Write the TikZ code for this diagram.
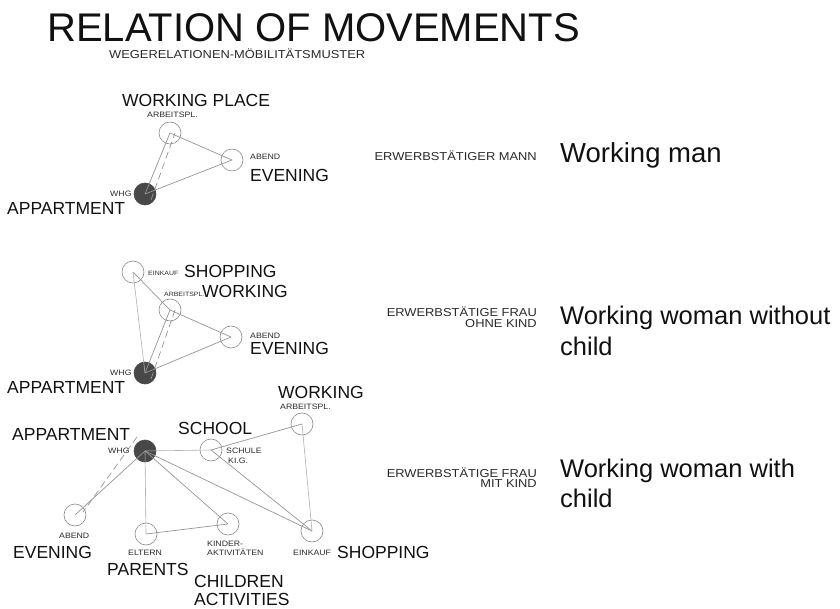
\documentclass[tikz,border=0pt]{standalone}
\usepackage{fontspec}
\setmainfont{Liberation Sans}
\newfontfamily\widefont[FakeStretch=1.12]{Liberation Sans}
\definecolor{ringgray}{HTML}{8A8A8A}
\definecolor{linegray}{HTML}{969696}
\definecolor{faintgray}{HTML}{B0B0B0}
\definecolor{homegray}{HTML}{484848}
\definecolor{inkc}{HTML}{111111}
\definecolor{smallink}{HTML}{2A2A2A}
\begin{document}
\begin{tikzpicture}[x=1pt,y=-1pt,
  ring/.style={circle, draw=ringgray, line width=0.6pt, minimum size=22pt, inner sep=0pt},
  home/.style={circle, fill=homegray, draw=homegray, line width=0.6pt, minimum size=22pt, inner sep=0pt},
  link/.style={draw=linegray, line width=0.7pt},
  faint/.style={draw=faintgray, line width=0.6pt},
  dashlink/.style={draw=linegray, line width=0.7pt, dash pattern=on 7pt off 4pt},
  titletext/.style={font=\fontsize{40}{44}\selectfont, text=inkc, anchor=base west, inner sep=0pt},
  subtitletext/.style={font=\widefont\fontsize{11.5}{12}\selectfont, text=smallink, anchor=base west, inner sep=0pt},
  bigtext/.style={font=\fontsize{17.5}{20}\selectfont, text=inkc, anchor=base west, inner sep=0pt},
  tinytext/.style={font=\widefont\fontsize{7.8}{9}\selectfont, text=smallink, anchor=base west, inner sep=0pt},
  minitext/.style={font=\widefont\fontsize{6.2}{7}\selectfont, text=smallink, anchor=base west, inner sep=0pt},
  germantext/.style={font=\widefont\fontsize{11.5}{12}\selectfont, text=smallink, anchor=base east, inner sep=0pt},
  hugetext/.style={font=\fontsize{25.5}{30}\selectfont, text=inkc, anchor=base west, inner sep=0pt}]
\useasboundingbox (0,0) rectangle (840,609);
\fill[white] (0,0) rectangle (840,609);

% title
\node[titletext] (t) at (47,42) {RELATION OF MOVEMENTS};
\node[subtitletext] (st) at (109,59) {WEGERELATIONEN-MÖBILITÄTSMUSTER};

% ---------- diagram 1 ----------
\node[ring] (aw) at (170,133) {};
\node[ring] (ae) at (232,160) {};
\node[home] (ah) at (145,194) {};
\draw[link] (aw.center) -- (ae.center);
\draw[link] (ah.center) -- (ae.center);
\draw[link] (ah.center) -- (aw.center);
\draw[dashlink] ([xshift=6pt,yshift=-6pt]ah.center) -- ([xshift=5pt]aw.center);
\node[bigtext] (awl) at (122,107) {WORKING PLACE};
\node[tinytext] (aws) at (147,118) {ARBEITSPL.};
\node[tinytext] (aes) at (250,160) {ABEND};
\node[bigtext] (ael) at (250,182) {EVENING};
\node[tinytext] (ahs) at (110,197) {WHG};
\node[bigtext] (ahl) at (7,215) {APPARTMENT};

\node[germantext] (ac) at (537,161) {ERWERBSTÄTIGER MANN};
\node[hugetext, font=\fontsize{27.5}{32}\selectfont] (at) at (560,163) {Working man};

% ---------- diagram 2 ----------
\node[ring] (bs) at (133,272) {};
\node[ring] (bw) at (170,310) {};
\node[ring] (be) at (231,337) {};
\node[home] (bh) at (145,373) {};
\draw[link] (bs.center) -- (bw.center);
\draw[link] (bw.center) -- (be.center);
\draw[faint] (bh.center) -- (bs.center);
\draw[link] (bh.center) -- (be.center);
\draw[link] (bh.center) -- (bw.center);
\draw[dashlink] ([xshift=6pt,yshift=-6pt]bh.center) -- ([xshift=5pt]bw.center);
\node[minitext] (bss) at (148,276) {EINKAUF};
\node[bigtext] (bsl) at (184,278) {SHOPPING};
\node[minitext] (bws) at (164,297) {ARBEITSPL.};
\node[bigtext] (bwl) at (202,298) {WORKING};
\node[tinytext] (bes) at (250,338) {ABEND};
\node[bigtext] (bel) at (250,354) {EVENING};
\node[tinytext] (bhs) at (110,375) {WHG};
\node[bigtext] (bhl) at (7,393) {APPARTMENT};

\node[germantext] (bc1) at (537,317) {ERWERBSTÄTIGE FRAU};
\node[germantext] (bc2) at (537,327) {OHNE KIND};
\node[hugetext] (bt1) at (560,325) {Working woman without};
\node[hugetext] (bt2) at (560,355) {child};

% ---------- diagram 3 ----------
\node[home] (ch) at (145,451) {};
\node[ring] (cs) at (211,450) {};
\node[ring] (cw) at (302,424) {};
\node[ring] (ce) at (75,515) {};
\node[ring] (cp) at (146,534) {};
\node[ring] (ck) at (228,524) {};
\node[ring] (cb) at (312,531) {};
\draw[faint] (ch.center) -- (cs.center);
\draw[link] (cs.center) -- (cw.center);
\draw[link] (cs.center) -- (cb.center);
\draw[faint] (cw.center) -- (cb.center);
\draw[link] (ch.center) -- (cb.center);
\draw[link] (ch.center) -- (ck.center);
\draw[faint] (ch.center) -- (cp.center);
\draw[link] (cp.center) -- (ck.center);
\draw[link] (ch.center) -- (ce.center);
\draw[dashlink] ([xshift=-8pt,yshift=14pt]ch.center) -- ([xshift=8pt,yshift=3pt]ce.center);
\node[bigtext] (chl) at (12,440) {APPARTMENT};
\node[tinytext] (chs) at (108,453) {WHG};
\node[bigtext] (csl) at (178,434) {SCHOOL};
\node[tinytext] (css1) at (226,453) {SCHULE};
\node[tinytext] (css2) at (228,463) {KI.G.};
\node[bigtext] (cwl) at (278,398) {WORKING};
\node[tinytext] (cws) at (280,409) {ARBEITSPL.};
\node[tinytext] (ces) at (59,538) {ABEND};
\node[bigtext] (cel) at (13,558) {EVENING};
\node[tinytext] (cps) at (128,555) {ELTERN};
\node[bigtext] (cpl) at (107,575) {PARENTS};
\node[tinytext] (cks1) at (207,546) {KINDER-};
\node[tinytext] (cks2) at (207,555) {AKTIVITÄTEN};
\node[bigtext] (ckl1) at (194,587) {CHILDREN};
\node[bigtext] (ckl2) at (194,605) {ACTIVITIES};
\node[tinytext] (cbs) at (293,555) {EINKAUF};
\node[bigtext] (cbl) at (337,558) {SHOPPING};

\node[germantext] (cc1) at (537,477) {ERWERBSTÄTIGE FRAU};
\node[germantext] (cc2) at (537,487) {MIT KIND};
\node[hugetext] (ct1) at (560,477) {Working woman with};
\node[hugetext] (ct2) at (560,507) {child};
\end{tikzpicture}
\end{document}
